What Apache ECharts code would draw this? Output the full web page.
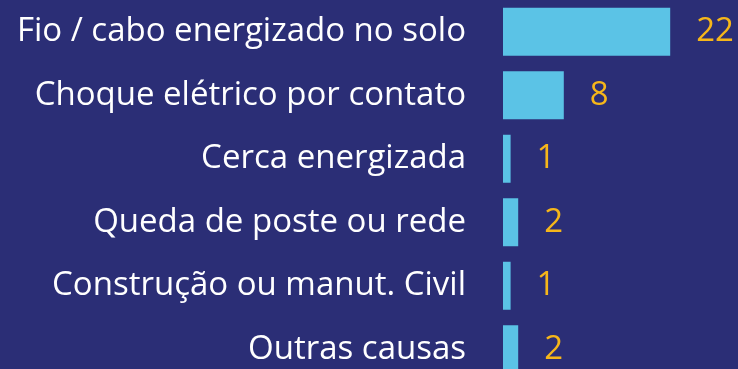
<!DOCTYPE html>
<html>
<head>
<meta charset="utf-8">
<script src="https://cdn.jsdelivr.net/npm/echarts@6/dist/echarts.min.js"></script>
<style>
  html, body { margin: 0; padding: 0; background: #2b2e76; }
  #chart { width: 738px; height: 369px; }
</style>
</head>
<body>
<div id="chart"></div>
<script>
// Causes of electrical accidents, top to bottom
const categories = [
  'Fio / cabo energizado no solo',
  'Choque elétrico por contato',
  'Cerca energizada',
  'Queda de poste ou rede',
  'Construção ou manut. Civil',
  'Outras causas'
];
const counts = [22, 8, 1, 2, 1, 2];

const chart = echarts.init(document.getElementById('chart'));
chart.setOption({
  backgroundColor: '#2b2e76',
  animation: false,
  grid: {
    left: 503, top: 0, width: 228, height: 381,
    containLabel: false,
    outerBoundsMode: 'none'
  },
  xAxis: {
    type: 'value', min: 0, max: 30,
    show: false
  },
  yAxis: {
    type: 'category',
    data: categories,
    inverse: true,
    axisLine: { show: false },
    axisTick: { show: false },
    axisLabel: {
      color: '#ffffff',
      fontFamily: 'Open Sans',
      fontSize: 33,
      margin: 37
    }
  },
  series: [{
    type: 'bar',
    data: counts,
    barWidth: 48,
    itemStyle: { color: '#5bc3e6' },
    label: {
      show: true,
      position: 'right',
      distance: 26,
      color: '#f6b61a',
      fontFamily: 'Open Sans',
      fontSize: 33
    }
  }]
});
</script>
</body>
</html>
